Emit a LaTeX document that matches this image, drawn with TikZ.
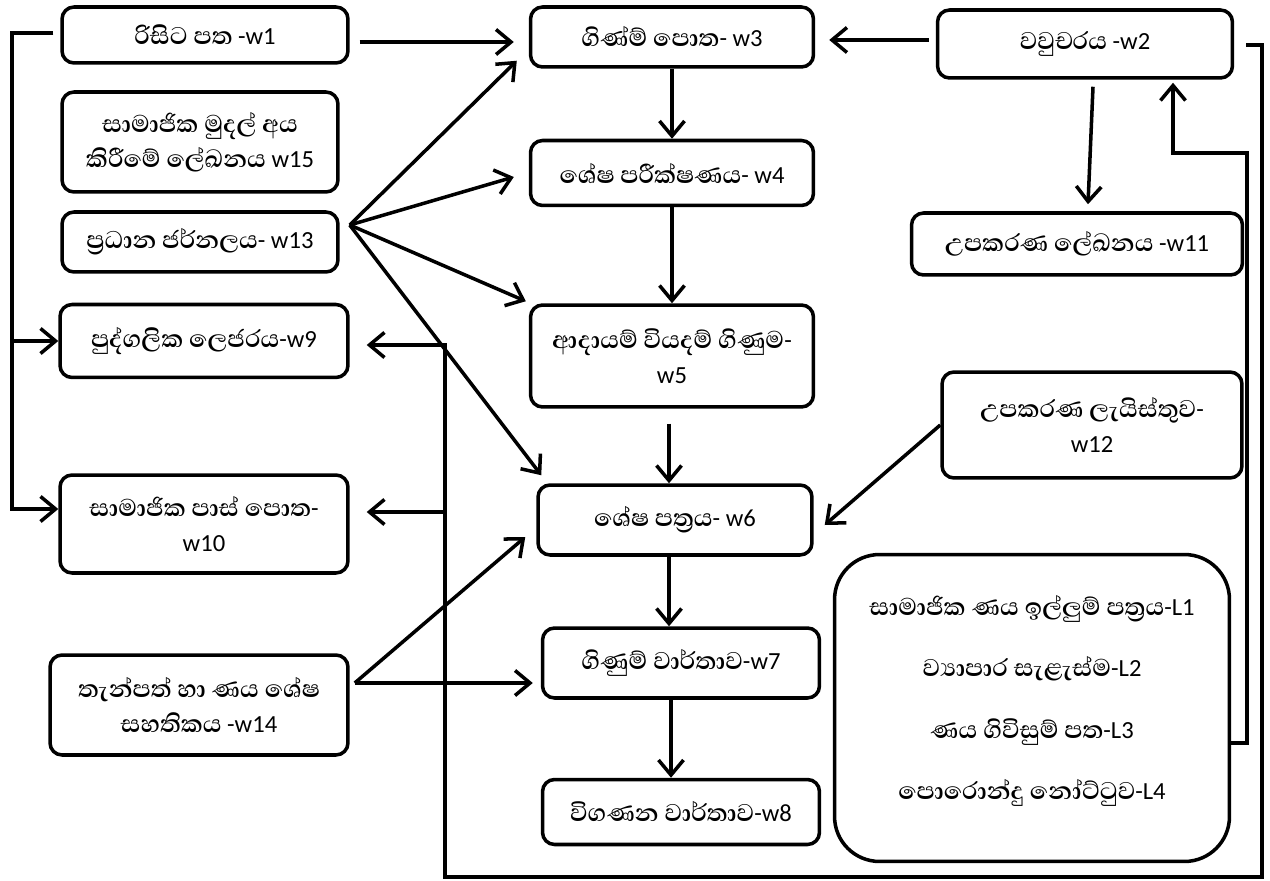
\documentclass[tikz,border=0pt]{standalone}
\usepackage{fontspec}
\setmainfont{Carlito}
\newfontfamily\sinfont[Script=Sinhala,Scale=1.26,UprightFont={* SemiBold}]{Abhaya Libre}
\newcommand{\si}[1]{{\sinfont #1}}
\usetikzlibrary{calc,arrows.meta}

\begin{document}
\begin{tikzpicture}[x=0.02cm,y=-0.02cm]
                      \tikzstyle{box}=[draw,line width=2pt,rounded corners=0.24cm,align=center,inner sep=0pt,font=\fontsize{14}{20}\selectfont]
                      \tikzstyle{arr}=[line width=2pt,-{Straight Barb[length=3mm,width=5mm]}]
                      \useasboundingbox (0,0) rectangle (1270,881);
                      \node[box,minimum width=5.72cm,minimum height=1.12cm] (w1) at (205,35) {\si{රිසිට පත} -w1};
                      \node[box,minimum width=5.52cm,minimum height=2cm] (w15) at (200,142) {\si{සාමාජික මුදල් අය}\\\si{කිරීමේ ලේඛනය} w15};
                      \node[box,minimum width=5.52cm,minimum height=1.2cm] (w13) at (200,242) {\si{ප්^^^^200dරධාන ජර්නලය}- w13};
                      \node[box,minimum width=5.76cm,minimum height=1.46cm] (w9) at (204,341) {\si{පුද්ගලික ලෙජරය}-w9};
                      \node[box,minimum width=5.76cm,minimum height=1.96cm] (w10) at (204,524) {\si{සාමාජික පාස් පොත}-\\w10};
                      \node[box,minimum width=5.96cm,minimum height=2cm] (w14) at (199,705) {\si{තැන්පත් හා ණය ශේෂ}\\\si{සහතිකය} -w14};
                      \node[box,minimum width=5.66cm,minimum height=1.2cm] (w3) at (672,37) {\si{ගිණ්ම් පොත}- w3};
                      \node[box,minimum width=5.66cm,minimum height=1.3cm] (w4) at (672,173) {\si{ශේෂ පරීක්ෂණය}- w4};
                      \node[box,minimum width=5.66cm,minimum height=2.04cm] (w5) at (672,356) {\si{ආදායම් වියදම් ගිණුම}-\\w5};
                      \node[box,minimum width=5.48cm,minimum height=1.4cm] (w6) at (675,520) {\si{ශේෂ පත්^^^^200dරය}- w6};
                      \node[box,minimum width=5.54cm,minimum height=1.4cm] (w7) at (681,663) {\si{ගිණුම් වාර්තාව}-w7};
                      \node[box,minimum width=5.54cm,minimum height=1.3cm] (w8) at (681,812) {\si{විගණන වාර්තාව}-w8};
                      \node[box,minimum width=5.9cm,minimum height=1.36cm] (w2) at (1085,44) {\si{වවුචරය} -w2};
                      \node[box,minimum width=6.62cm,minimum height=1.24cm] (w11) at (1077,244) {\si{උපකරණ ලේඛනය} -w11};
                      \node[box,minimum width=6cm,minimum height=2.12cm] (w12) at (1092,425) {\si{උපකරණ ලැයිස්තුව}-\\w12};
                      \node[box,rounded corners=0.9cm,minimum width=7.9cm,minimum height=6.14cm] (lst) at (1032,708) {\si{සාමාජික ණය ඉල්ලුම් පත්^^^^200dරය}-L1\\[15pt]\si{ව්^^^^200dයාපාර සැළැස්ම}-L2\\[15pt]\si{ණය ගිවිසුම් පත}-L3\\[15pt]\si{පොරොන්දු නෝට්ටුව}-L4\\[-8pt]\mbox{}};
                      \draw[arr] ($(w1.west)+(-7,-2)$) -- (12,33) |- (w9.west);
                      \draw[arr] (12,33) |- ([yshift=0.3cm]w10.west);
                      \draw[arr] ($(w1.east)+(10,7)$) -- ($(w3.west)+(-15,5)$);
                      \coordinate (f13) at ($(w13.east)+(10,-17)$);
                      \draw[arr] (f13) -- ($(w3.south west)+(-12,-8)$);
                      \draw[arr] (f13) -- ($(w4.west)+(-15,4)$);
                      \draw[arr] (f13) -- ($(w5.north west)+(-3,-2)$);
                      \draw[arr] (f13) -- ($(w6.north west)+(5,-8)$);
                      \coordinate (f14) at ($(w14.east)+(5,-22)$);
                      \draw[arr] (f14) -- ($(w6.west)+(-11,17)$);
                      \draw[arr] (f14) -- (f14 -| {$(w7.west)+(-8,0)$});
                      \draw[arr] ($(w2.west)+(-7,-4)$) -- ($(w3.east)+(14,3)$);
                      \draw[arr] ($(w2.south)+(8,7)$) -- ($(w11.north)+(11,-7)$);
                      \draw[arr] (w3.south) -- (w3.south |- w4.north);
                      \draw[arr] (w4.south) -- (w4.south |- w5.north);
                      \draw[arr] ([xshift=-0.06cm,yshift=-0.3cm]w5.south) -- ([xshift=-0.06cm]w5.south |- w6.north);
                      \draw[arr] ([xshift=-0.12cm]w6.south) -- ([xshift=-0.12cm]w6.south |- w7.north);
                      \draw[arr] ([xshift=-0.2cm]w7.south) -- ([xshift=-0.2cm]w7.south |- w8.north);
                      \draw[arr] (w12.west) -- ($(w6.east)+(11,5)$);
                      \draw[arr] ([yshift=-0.7cm]lst.east) -| (1247,153) -| ($(w2.south)+(88,3)$);
                      \draw[arr] ($(w2.east)+(12,1)$) -- (1262,45) |- (445,877) |- ($(w9.east)+(17,4)$);
                      \coordinate (jb) at (445,512);
                      \draw[arr] (jb) -- (jb -| {$(w10.east)+(17,0)$});
                  \end{tikzpicture}
\end{document}
